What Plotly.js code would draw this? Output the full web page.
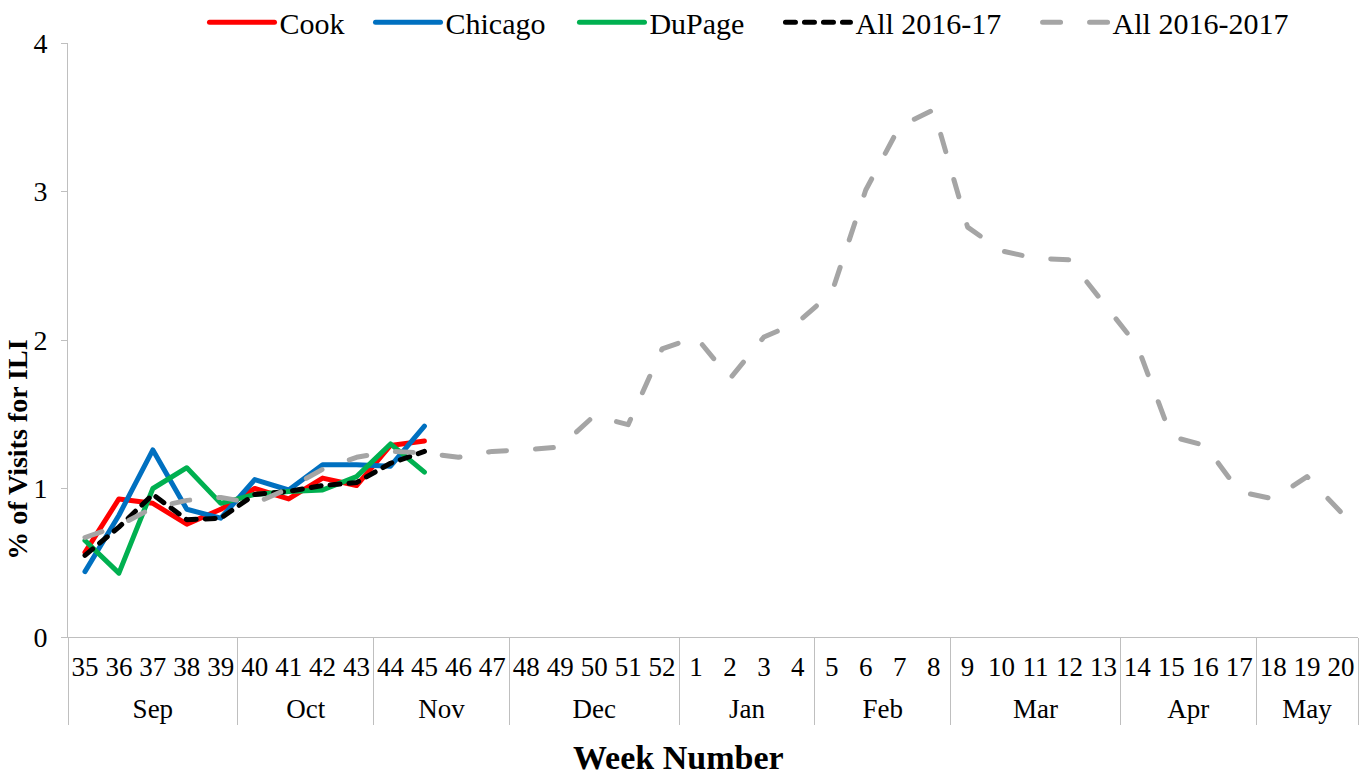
<!DOCTYPE html>
<html>
<head>
<meta charset="utf-8">
<script src="https://cdn.plot.ly/plotly-3.0.1.min.js"></script>
<style>
  html, body { margin: 0; padding: 0; background: #fff; }
  #chart { width: 1372px; height: 776px; }
  path.js-line { stroke-linecap: round; stroke-linejoin: round; }
</style>
</head>
<body>
<div id="chart"></div>
<script>
// Categories
const weeks = ["35","36","37","38","39","40","41","42","43","44","45","46","47","48","49","50","51","52",
               "1","2","3","4","5","6","7","8","9","10","11","12","13","14","15","16","17","18","19","20"];
const months = ["Sep","Sep","Sep","Sep","Sep","Oct","Oct","Oct","Oct","Nov","Nov","Nov","Nov",
                "Dec","Dec","Dec","Dec","Dec","Jan","Jan","Jan","Jan","Feb","Feb","Feb","Feb",
                "Mar","Mar","Mar","Mar","Mar","Apr","Apr","Apr","Apr","May","May","May"];

// Series values (% of visits for ILI)
const cook    = [0.57, 0.93, 0.90, 0.76, 0.86, 1.00, 0.93, 1.07, 1.02, 1.29, 1.32];
const chicago = [0.44, 0.82, 1.26, 0.86, 0.80, 1.06, 0.99, 1.16, 1.16, 1.15, 1.42];
const dupage  = [0.65, 0.43, 1.00, 1.14, 0.90, 0.96, 0.98, 0.99, 1.08, 1.30, 1.11];
const all1617 = [0.55, 0.74, 0.96, 0.79, 0.80, 0.96, 0.98, 1.02, 1.04, 1.17, 1.25];
const all20162017 = [0.67, 0.75, 0.87, 0.92, 0.94, 0.90, 1.00, 1.13, 1.21, 1.25, 1.24, 1.21, 1.25,
                     1.26, 1.28, 1.49, 1.43, 1.94, 2.02, 1.74, 2.02, 2.12, 2.32, 3.01, 3.44, 3.55,
                     2.76, 2.60, 2.55, 2.54, 2.25, 1.96, 1.35, 1.29, 0.98, 0.93, 1.08, 0.84];

const seriesNames = ["Cook", "Chicago", "DuPage", "All 2016-17", "All 2016-2017"];
const yTitle = "% of Visits for ILI";
const xTitle = "Week Number";

const FONT = "Liberation Serif, Times New Roman, serif";

// Month groups derived from the months array (category index positions)
const monthNames = [];
const monthCenters = [];
const monthBounds = [-0.5];
(function () {
  let start = 0;
  for (let i = 1; i <= months.length; i++) {
    if (i === months.length || months[i] !== months[start]) {
      monthNames.push(months[start]);
      monthCenters.push((start + i - 1) / 2);
      monthBounds.push(i - 0.5);
      start = i;
    }
  }
})();
const catRange = [-0.5, weeks.length - 0.5];

const legendIds = ["legend", "legend2", "legend3", "legend4", "legend5"];
const legendX = [0.1058, 0.2345, 0.3926, 0.5523, 0.7516];

const traces = [
  {name: seriesNames[0], y: cook, color: "#ff0000", dash: "solid"},
  {name: seriesNames[1], y: chicago, color: "#0070c0", dash: "solid"},
  {name: seriesNames[2], y: dupage, color: "#00b050", dash: "solid"},
  {name: seriesNames[3], y: all1617, color: "#000000", dash: "10px,9px"},
  {name: seriesNames[4], y: all20162017, color: "#a5a5a5", dash: "18px,29px"}
].map((s, i) => ({
  type: "scatter",
  mode: "lines",
  name: s.name,
  legend: legendIds[i],
  x: weeks.slice(0, s.y.length),
  y: s.y,
  line: {color: s.color, width: 5, dash: s.dash}
}));

// empty helper traces so the month-divider and month-label axes are drawn
["x2", "x3"].forEach(ax => {
  traces.push({
    type: "scatter",
    mode: "lines",
    xaxis: ax,
    yaxis: "y",
    x: monthCenters,
    y: monthCenters.map(() => null),
    showlegend: false,
    hoverinfo: "skip",
    line: {width: 0}
  });
});

function legendBox(x) {
  return {
    orientation: "h",
    x: x, xanchor: "left",
    y: 1.035, yanchor: "middle",
    font: {family: FONT, size: 30, color: "#000000"},
    itemwidth: 65,
    borderwidth: 0,
    bgcolor: "rgba(0,0,0,0)"
  };
}

const layout = {
  width: 1372,
  height: 776,
  margin: {l: 68, r: 14, t: 43, b: 139, autoexpand: false},
  paper_bgcolor: "#ffffff",
  plot_bgcolor: "#ffffff",
  font: {family: FONT, size: 28, color: "#000000"},
  showlegend: true,
  xaxis: {
    type: "category",
    categoryorder: "array",
    categoryarray: weeks,
    range: catRange,
    showline: true,
    linecolor: "#bfbfbf",
    linewidth: 1,
    showgrid: false,
    zeroline: false,
    ticks: "",
    tickangle: 0,
    ticklabelstandoff: 6,
    tickfont: {family: FONT, size: 27, color: "#000000"}
  },
  // month dividers
  xaxis2: {
    type: "linear",
    overlaying: "x",
    anchor: "y",
    side: "bottom",
    range: catRange,
    showline: false,
    showgrid: false,
    zeroline: false,
    tickmode: "array",
    tickvals: monthBounds,
    ticks: "outside",
    ticklen: 87,
    tickwidth: 1,
    tickcolor: "#bfbfbf",
    showticklabels: false
  },
  // month labels
  xaxis3: {
    type: "linear",
    overlaying: "x",
    anchor: "y",
    side: "bottom",
    range: catRange,
    showline: false,
    showgrid: false,
    zeroline: false,
    tickmode: "array",
    tickvals: monthCenters,
    ticktext: monthNames,
    ticks: "",
    tickangle: 0,
    ticklabelstandoff: 53,
    tickfont: {family: FONT, size: 27, color: "#000000"}
  },
  yaxis: {
    range: [0, 4],
    dtick: 1,
    tick0: 0,
    showline: true,
    linecolor: "#bfbfbf",
    linewidth: 1,
    showgrid: false,
    zeroline: false,
    ticks: "outside",
    ticklen: 6,
    tickcolor: "#bfbfbf",
    ticklabelstandoff: 8,
    tickfont: {family: FONT, size: 28, color: "#000000"}
  },
  annotations: [
    {
      text: "<b>" + yTitle + "</b>",
      xref: "paper", yref: "paper",
      x: -0.0388, y: 0.315,
      xanchor: "center", yanchor: "middle",
      textangle: -90,
      showarrow: false,
      font: {family: FONT, size: 28, color: "#000000"}
    },
    {
      text: "<b>" + xTitle + "</b>",
      xref: "paper", yref: "paper",
      x: 0.473, y: -0.236,
      xanchor: "center", yanchor: "bottom",
      borderpad: 0,
      showarrow: false,
      font: {family: FONT, size: 34, color: "#000000"}
    }
  ]
};
legendIds.forEach((id, i) => { layout[id] = legendBox(legendX[i]); });

Plotly.newPlot("chart", traces, layout, {displayModeBar: false, staticPlot: true});
</script>
</body>
</html>
